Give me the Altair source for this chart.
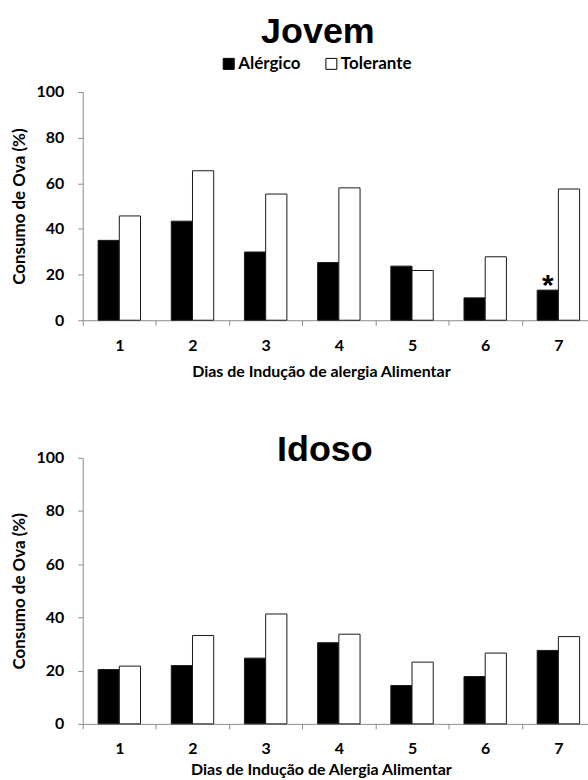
import altair as alt
import pandas as pd

# Categories
dias = ["1", "2", "3", "4", "5", "6", "7"]
grupos = ["Alérgico", "Tolerante"]
cores = ["#000000", "#ffffff"]

# Consumo de OVA (%) por dia de indução
jovem_alergico = [35.0, 43.4, 29.9, 25.3, 23.7, 9.8, 13.2]
jovem_tolerante = [45.7, 65.5, 55.3, 58.0, 21.8, 27.8, 57.5]
idoso_alergico = [20.4, 21.9, 24.7, 30.5, 14.4, 17.8, 27.6]
idoso_tolerante = [21.7, 33.2, 41.3, 33.7, 23.2, 26.6, 32.8]

# Significance marker (Jovem, day 7, Alérgico)
marca_dia = ["7"]
marca_grupo = ["Alérgico"]
marca_valor = [13.2]
marca_texto = ["*"]

y_ticks = [0, 20, 40, 60, 80, 100]

LABEL_FONT = "Lato"
TITLE_FONT = "Liberation Sans"


def tabela(alergico, tolerante):
    linhas = []
    for d, a, t in zip(dias, alergico, tolerante):
        linhas.append({"dia": d, "grupo": grupos[0], "valor": a})
        linhas.append({"dia": d, "grupo": grupos[1], "valor": t})
    return pd.DataFrame(linhas)


def painel(df, titulo, eixo_x, altura, legenda, title_offset, title_dx,
           x_title_pad, marcas=None):
    x = alt.X(
        "dia:N",
        sort=dias,
        scale=alt.Scale(domain=dias, paddingInner=0, paddingOuter=0),
        axis=alt.Axis(title=eixo_x, titleX=239, titlePadding=x_title_pad),
    )
    x_off = alt.XOffset(
        "grupo:N",
        sort=grupos,
        scale=alt.Scale(domain=grupos, paddingInner=0, paddingOuter=0.725),
    )
    y = alt.Y(
        "valor:Q",
        scale=alt.Scale(domain=[0, 100], nice=False),
        axis=alt.Axis(title="Consumo de Ova (%)", values=y_ticks),
    )
    fill = alt.Fill(
        "grupo:N",
        sort=grupos,
        scale=alt.Scale(domain=grupos, range=cores),
        legend=legenda,
    )
    barras = alt.Chart(df).mark_bar(stroke="#1a1a1a", strokeWidth=1).encode(
        x=x, xOffset=x_off, y=y, fill=fill
    )
    camadas = [barras]
    if marcas is not None:
        texto = alt.Chart(marcas).mark_text(
            font=TITLE_FONT, fontSize=30, fontWeight="bold",
            baseline="alphabetic", dy=5, color="black",
        ).encode(x=x, xOffset=x_off, y=y, text="texto:N")
        camadas.append(texto)
    return alt.layer(*camadas).properties(
        width=514,
        height=altura,
        title=alt.TitleParams(
            titulo, font=TITLE_FONT, fontSize=36, fontWeight="bold",
            anchor="middle", dx=title_dx, offset=title_offset, color="black",
        ),
    )


legenda_topo = alt.Legend(
    title=None,
    orient="none",
    legendX=138,
    legendY=-37,
    direction="horizontal",
    symbolType="square",
    symbolSize=121,
    symbolStrokeColor="black",
    symbolStrokeWidth=1,
    labelFont=LABEL_FONT,
    labelFontSize=17,
    labelFontWeight="bold",
    labelColor="black",
    labelOffset=1,
    columnPadding=22,
    padding=0,
)

marcas = pd.DataFrame(
    {"dia": marca_dia, "grupo": marca_grupo, "valor": marca_valor, "texto": marca_texto}
)

topo = painel(
    tabela(jovem_alergico, jovem_tolerante),
    "Jovem", "Dias de Indução  de alergia Alimentar", 229, legenda_topo, 4, -21, 10, marcas,
)
base = painel(
    tabela(idoso_alergico, idoso_tolerante),
    "Idoso", "Dias de Indução  de Alergia Alimentar", 267, None, -19, -14, 5,
)

chart = (
    alt.vconcat(topo, base, spacing=53)
    .resolve_scale(fill="independent")
    .resolve_legend(fill="independent")
    .properties(padding={"left": 10, "top": 13, "right": -8, "bottom": 2})
    .configure_view(stroke=None)
    .configure_axis(
        domainColor="#8c8c8c",
        tickColor="#8c8c8c",
        tickSize=5,
        grid=False,
        labelFont=LABEL_FONT,
        labelFontSize=16,
        labelFontWeight="bold",
        labelColor="black",
        titleFont=LABEL_FONT,
        titleFontWeight="bold",
        titleColor="black",
    )
    .configure_axisX(labelAngle=0, tickBand="extent", labelPadding=12, titleFontSize=16)
    .configure_axisY(labelPadding=14, titlePadding=8, titleFontSize=17)
)

chart.save("out.html", embed_options={"renderer": "svg", "actions": False})
